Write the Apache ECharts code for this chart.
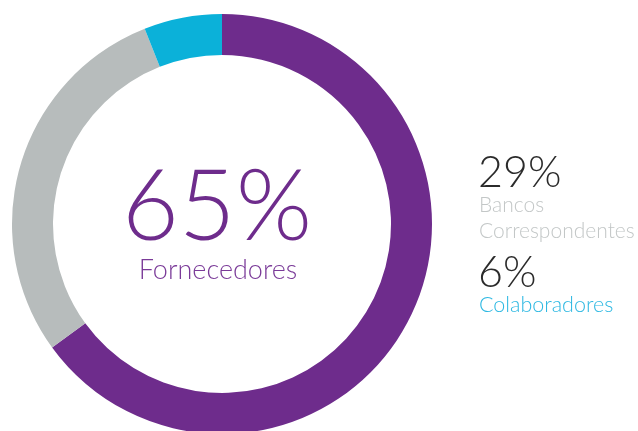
<!DOCTYPE html>
<html>
<head>
<meta charset="utf-8">
<style>
  html, body { margin: 0; padding: 0; background: #ffffff; }
  #chart { width: 638px; height: 431px; }
</style>
<script src="https://cdn.jsdelivr.net/npm/echarts@6/dist/echarts.min.js"></script>
</head>
<body>
<div id="chart"></div>
<script>
// Share of each group (percent), drawn clockwise from 12 o'clock
const categories = ['Fornecedores', 'Bancos Correspondentes', 'Colaboradores'];
const values = [65, 29, 6];
const colors = ['#6e2c8c', '#b7bcbc', '#0bb1d9'];
const labelColors = ['#7a3a98', '#c3c7c7', '#2db8e2'];

const chart = echarts.init(document.getElementById('chart'), null, { renderer: 'canvas' });
const font = 'Lato, "Open Sans", sans-serif';

chart.setOption({
  animation: false,
  series: [{
    type: 'pie',
    center: [222, 224],
    radius: [169, 210],
    startAngle: 90,
    clockwise: true,
    silent: true,
    label: { show: false },
    labelLine: { show: false },
    emphasis: { disabled: true },
    itemStyle: { borderWidth: 0 },
    data: categories.map((name, i) => ({
      name: name,
      value: values[i],
      itemStyle: { color: colors[i] }
    }))
  }],
  graphic: [
    {
      type: 'text', x: 217, y: 208,
      style: { text: values[0] + '%', font: '300 98px ' + font, fill: colors[0], align: 'center', verticalAlign: 'middle' }
    },
    {
      type: 'text', x: 218, y: 270,
      style: { text: categories[0], font: '300 27px ' + font, fill: labelColors[0], align: 'center', verticalAlign: 'middle' }
    },
    {
      type: 'text', x: 478, y: 173,
      style: { text: values[1] + '%', font: '300 43px ' + font, fill: '#2b2b2b', verticalAlign: 'middle' }
    },
    {
      type: 'text', x: 479, y: 205,
      style: { text: 'Bancos', font: '300 21px ' + font, fill: labelColors[1], verticalAlign: 'middle' }
    },
    {
      type: 'text', x: 479, y: 231,
      style: { text: 'Correspondentes', font: '300 21px ' + font, fill: labelColors[1], verticalAlign: 'middle' }
    },
    {
      type: 'text', x: 478, y: 273,
      style: { text: values[2] + '%', font: '300 43px ' + font, fill: '#2b2b2b', verticalAlign: 'middle' }
    },
    {
      type: 'text', x: 479, y: 305,
      style: { text: categories[2], font: '300 21.5px ' + font, fill: labelColors[2], verticalAlign: 'middle' }
    }
  ]
});
</script>
</body>
</html>
